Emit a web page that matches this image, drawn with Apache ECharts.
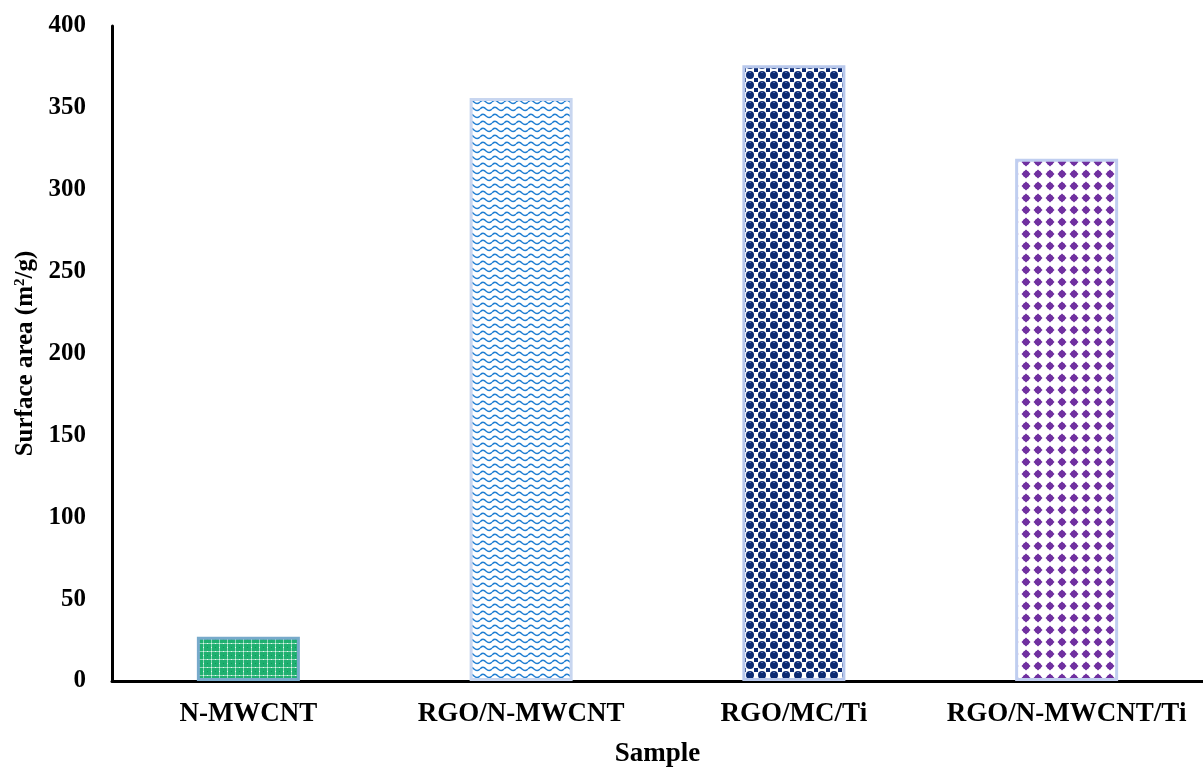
<!DOCTYPE html>
<html><head><meta charset="utf-8">
<script src="https://cdn.jsdelivr.net/npm/echarts@6/dist/echarts.min.js"></script>
<style>html,body{margin:0;padding:0;background:#fff}#c{width:1203px;height:769px}</style>
</head><body><div id="c"></div>
<script>
const categories = ['N-MWCNT', 'RGO/N-MWCNT', 'RGO/MC/Ti', 'RGO/N-MWCNT/Ti'];
const surfaceArea = [27, 356, 376, 319];
const yTicks = [0, 50, 100, 150, 200, 250, 300, 350, 400];

function mk(w, h, draw) {
  const c = document.createElement('canvas');
  c.width = w; c.height = h;
  const g = c.getContext('2d');
  draw(g, w, h);
  return c;
}
const patGreen = mk(8, 8, (g) => {
  g.fillStyle = '#1fb070'; g.fillRect(0, 0, 8, 8);
  g.fillStyle = '#8fd8b8';
  g.fillRect(0, 3, 8, 1); g.fillRect(3, 0, 1, 8);
  g.fillStyle = '#e8f8f0'; g.fillRect(3, 3, 1, 1); g.fillRect(7, 3, 1, 1); g.fillRect(3, 7, 1, 1);
  g.fillStyle = '#0f9a5c'; g.fillRect(7, 7, 1, 1);
});
const patWave = mk(12, 7, (g) => {
  g.fillStyle = '#ffffff'; g.fillRect(0, 0, 12, 7);
  g.strokeStyle = '#1f7ed2'; g.lineWidth = 1.4;
  g.beginPath(); g.moveTo(0, 4); g.quadraticCurveTo(3, 0.5, 6, 4); g.quadraticCurveTo(9, 7, 12, 4); g.stroke();
});
const patNavy = mk(12, 10, (g) => {
  g.fillStyle = '#ffffff'; g.fillRect(0, 0, 12, 10);
  g.fillStyle = '#0b2a72';
  g.beginPath(); g.arc(6, 5, 4, 0, Math.PI * 2); g.fill();
  g.fillRect(0, 0, 2, 2); g.fillRect(10, 8, 2, 2); g.fillRect(0, 8, 2, 2); g.fillRect(10, 0, 2, 2);
  g.fillStyle = '#4a6ab0'; g.fillRect(5, 2, 2, 1);
});
const patPurple = mk(12, 12, (g) => {
  g.fillStyle = '#ffffff'; g.fillRect(0, 0, 12, 12);
  g.fillStyle = '#7030a0';
  g.beginPath(); g.moveTo(6, 1.5); g.lineTo(10.5, 6); g.lineTo(6, 10.5); g.lineTo(1.5, 6); g.closePath(); g.fill();
  g.beginPath(); g.arc(6, 6, 3.2, 0, Math.PI * 2); g.fill();
});
const patterns = [patGreen, patWave, patNavy, patPurple];
const borders = ['#78aacb', '#c8d6f0', '#b8c8ec', '#c0cef0'];

const chart = echarts.init(document.getElementById('c'), null, { renderer: 'canvas' });
const font = '"Liberation Serif", "Times New Roman", serif';
chart.setOption({
  animation: false,
  grid: { left: 112, right: 0, top: 26, bottom: 88, containLabel: false, outerBoundsMode: 'none' },
  xAxis: {
    type: 'category', data: categories,
    name: 'Sample', nameLocation: 'middle', nameGap: 60,
    nameTextStyle: { fontFamily: font, fontWeight: 'bold', fontSize: 27, color: '#000' },
    axisLine: { lineStyle: { color: '#000', width: 3 } },
    axisTick: { show: false },
    axisLabel: { interval: 0, hideOverlap: false, fontFamily: font, fontWeight: 'bold', fontSize: 27, color: '#000', margin: 20 }
  },
  yAxis: {
    type: 'value', min: 0, max: 400, interval: 50,
    name: 'Surface area (m{s|2}/g)', nameLocation: 'middle', nameGap: 74, nameRotate: 90,
    nameTextStyle: { fontFamily: font, fontWeight: 'bold', fontSize: 25, color: '#000',
      rich: { s: { fontFamily: font, fontWeight: 'bold', fontSize: 15, color: '#000', verticalAlign: 'top', padding: [0, 0, 9, 0] } } },
    axisLine: { show: true, lineStyle: { color: '#000', width: 3 } },
    axisTick: { show: false },
    splitLine: { show: false },
    axisLabel: { fontFamily: font, fontWeight: 'bold', fontSize: 25, color: '#000', margin: 26,
      formatter: v => yTicks.includes(v) ? String(v) : '' }
  },
  series: [{
    type: 'bar', barWidth: 103,
    data: surfaceArea.map((v, i) => ({
      value: v,
      itemStyle: { color: { image: patterns[i], repeat: 'repeat' }, borderColor: borders[i], borderWidth: 3 }
    }))
  }]
});
</script></body></html>
